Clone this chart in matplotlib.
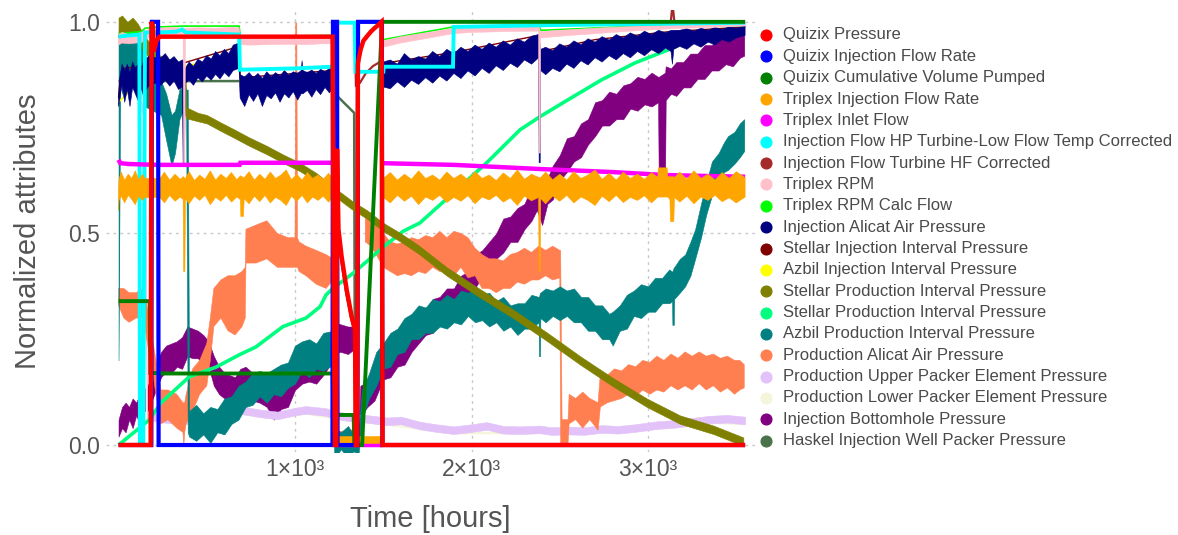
import numpy as np
import matplotlib
matplotlib.use("Agg")
import matplotlib.pyplot as plt
from matplotlib.lines import Line2D

nan = np.nan

# ---------------------------------------------------------------- series info
series_names = [
    "Quizix Pressure",
    "Quizix Injection Flow Rate",
    "Quizix Cumulative Volume Pumped",
    "Triplex Injection Flow Rate",
    "Triplex Inlet Flow",
    "Injection Flow HP Turbine-Low Flow Temp Corrected",
    "Injection Flow Turbine HF Corrected",
    "Triplex RPM",
    "Triplex RPM Calc Flow",
    "Injection Alicat Air Pressure",
    "Stellar Injection Interval Pressure",
    "Azbil Injection Interval Pressure",
    "Stellar Production Interval Pressure",
    "Stellar Production Interval Pressure",
    "Azbil Production Interval Pressure",
    "Production Alicat Air Pressure",
    "Production Upper Packer Element Pressure",
    "Production Lower Packer Element Pressure",
    "Injection Bottomhole Pressure",
    "Haskel Injection Well Packer Pressure",
]
series_colors = [
    "#FF0000", "#0000FF", "#008000", "#FFA500", "#FF00FF",
    "#00FFFF", "#A52A2A", "#FFC0CB", "#00FF00", "#000080",
    "#800000", "#FFFF00", "#808000", "#00FF7F", "#008080",
    "#FF7F50", "#E2C2F8", "#F5F5DC", "#800080", "#4B734B",
]

# ---------------------------------------------------------------- step-like series (time [h], value)
quizix_pressure_t = [0, 182, 187, 195, 200, 215, 232, 1213, 1219, 1226, 1234, 1238, 1246, 1264, 1293,
                     1321, 1340, 1344, 1352, 1356, 1362, 1372, 1387, 1410, 1430, 1450, 1470, 1490, 1496, 3550]
quizix_pressure_v = [0, 0, 1.0, 0.99, 0.93, 0.955, 0.965, 0.965, 0.36, 0.0, 0.0, 0.70, 0.51, 0.445, 0.366,
                     0.303, 0.272, 0.0, 0.0, 0.90, 0.915, 0.935, 0.955, 0.967, 0.977, 0.985, 0.992, 1.0, 0.0, 0.0]

quizix_rate_t = [0, 186, 189, 224, 227, 1212, 1215, 1238, 1241, 1354, 1357, 1492, 1495, 3550]
quizix_rate_v = [0, 0, 1, 1, 0, 0, 1, 1, 0, 0, 1, 1, 0, 0]

quizix_volume_t = [0, 176, 180, 236, 240, 1213, 1217, 1332, 1336, 1380, 1493, 3550]
quizix_volume_v = [0.34, 0.34, 0.17, 0.17, 0.169, 0.169, 0.071, 0.071, 0.0, 0.0, 1.0, 1.0]

hp_flow_t = [0, 60, 118, 121, 140, 150, 235, 330, 360, 380, 683, 688, 700, 1000, 1214, 1220, 1338,
             1342, 1500, 1503, 1895, 1899, 2400, 3550]
hp_flow_v = [0.965, 0.968, 0.970, 0.0, 0.0, 0.975, 0.975, 0.977, 0.982, 0.975, 0.970, 0.887, 0.887,
             0.890, 0.894, 0.998, 0.998, 0.882, 0.882, 0.894, 0.894, 0.988, 0.992, 0.998]

hf_flow_t = [0, 60, 118, 121, 140, 150, 235, 330, 360, 380, 683, 688, 700, 1000, 1214, 1220, 1338, 1345,
             1368, 1400, 1440, 1480, 1500, 1503, 1895, 1899, 2400, 3128, 3136, 3142, 3150, 3550]
hf_flow_v = [0.965, 0.968, 0.970, 0.0, 0.0, 0.975, 0.975, 0.977, 0.982, 0.975, 0.970, 0.887, 0.887,
             0.890, 0.894, 0.998, 0.998, 0.85, 0.856, 0.878, 0.895, 0.905, 0.894, 0.894, 0.894, 0.988,
             0.992, 0.996, 1.03, 1.03, 0.996, 0.998]

inlet_t = [0, 10, 60, 140, 235, 686, 690, 1215, 1222, 1228, 1494, 1497, 1500, 1900, 2200, 2400, 2800,
           3100, 3300, 3550]
inlet_v = [0.674, 0.666, 0.664, 0.663, 0.662, 0.662, 0.667, 0.667, nan, 0.0, 0.0, nan, 0.666, 0.662,
           0.656, 0.652, 0.645, 0.638, 0.636, 0.634]

rpm_calc_t = [0, 130, 150, 235, 366, 683, 690, 1215, 1222, 1496, 1500, 1897, 2380, 2392, 3550]
rpm_calc_v = [0.972, 0.977, 0.985, 0.988, 0.99, 0.99, 0.965, 0.968, nan, nan, 0.958, 0.988, 0.993,
              0.98, 1.0]

stellar_inj_t = [0, 8, 30, 140, 240, 362, 683, 689, 1215, 1218, 1232, 1240, 1258, 1287, 1315, 1334,
                 1338, 1496, 1500, 1900, 2380, 2392, 2700, 3100, 3550]
stellar_inj_v = [0.82, 0.865, 0.89, 0.895, 0.91, 0.902, 0.942, 0.868, 0.885, 0.70, 0.62, 0.50, 0.44,
                 0.36, 0.30, 0.268, nan, nan, 0.902, 0.928, 0.968, 0.93, 0.958, 0.976, 0.988]

azbil_inj_t = [0, 140, 240, 683, 690, 1215, 1222, 1496, 1500, 2380, 2392, 3550]
azbil_inj_v = [0.81, 0.87, 0.885, 0.92, 0.85, 0.868, nan, nan, 0.878, 0.95, 0.91, 0.98]

stellar_prod2_t = [0, 173, 241, 400, 552, 683, 779, 932, 1062, 1142, 1176, 1217, 1329, 1521, 1612,
                   1708, 1897, 2086, 2275, 2388, 2547, 2737, 2926, 3115, 3193, 3350, 3550]
stellar_prod2_v = [0.0, 0.059, 0.10, 0.161, 0.184, 0.213, 0.232, 0.28, 0.30, 0.327, 0.355, 0.371,
                   0.406, 0.475, 0.505, 0.525, 0.596, 0.667, 0.745, 0.776, 0.816, 0.863, 0.903,
                   0.934, 0.95, 0.975, 0.99]

lower_packer_t = [0, 120, 128, 150, 160, 400, 700, 1062, 1215, 1521, 1900, 2275, 2737, 3050, 3350, 3550]
lower_packer_v = [0.97, 0.975, 0.80, 0.77, 0.06, 0.05, 0.072, 0.074, 0.064, 0.048, 0.028, 0.028,
                  0.03, 0.04, 0.052, 0.05]

haskel_t = [0, 1236, 1243, 1335, 1340, 1350]
haskel_v = [0.86, 0.86, 0.823, 0.785, 0.0, 0.0]

# ---------------------------------------------------------------- noisy series (time, low, high)
triplex_rate_t = [
    0, 3, 15, 35, 55, 75, 95, 115, 135, 150,
    235, 260, 290, 320, 350, 366, 369, 376, 379, 400, 430, 460, 490, 520, 550, 580, 610, 640, 670, 690,
    693, 708, 712, 740, 770, 800, 830, 860, 890, 920, 950, 980, 1010, 1040, 1070, 1100, 1130, 1160, 1190, 1215,
    1220, 1226, 1494, 1497,
    1500, 1540, 1580, 1620, 1660, 1700, 1740, 1780, 1820, 1860, 1900, 1940, 1980, 2020, 2060, 2100, 2140,
    2180, 2220, 2260, 2300, 2340, 2380, 2383, 2389, 2392, 2420, 2460, 2500, 2540, 2580, 2620, 2660, 2700,
    2740, 2780, 2820, 2860, 2900, 2940, 2980, 3020, 3055, 3058, 3108, 3112, 3124, 3127, 3146, 3150, 3180,
    3220, 3260, 3300, 3340, 3380, 3420, 3460, 3500, 3550]
triplex_rate_lo = [
    0.555, 0.578, 0.588, 0.572, 0.590, 0.580, 0.568, 0.588, 0.578, 0.585,
    0.585, 0.572, 0.590, 0.576, 0.586, 0.580, 0.41, 0.41, 0.582, 0.570, 0.588, 0.578, 0.590, 0.568, 0.585,
    0.576, 0.590, 0.574, 0.586, 0.580, 0.54, 0.54, 0.582, 0.570, 0.588, 0.575, 0.590, 0.572, 0.585, 0.578,
    0.566, 0.588, 0.576, 0.590, 0.572, 0.586, 0.578, 0.588, 0.574, 0.585,
    nan, 0.004, 0.004, nan,
    0.585, 0.572, 0.590, 0.576, 0.588, 0.568, 0.586, 0.578, 0.590, 0.573, 0.585, 0.576, 0.589, 0.570,
    0.586, 0.579, 0.590, 0.574, 0.584, 0.566, 0.588, 0.577, 0.585, 0.41, 0.41, 0.582,
    0.570, 0.588, 0.576, 0.590, 0.572, 0.586, 0.578, 0.566, 0.588, 0.575, 0.590, 0.573, 0.585, 0.578,
    0.589, 0.572, 0.586, 0.586, 0.586, 0.586, 0.58, 0.528, 0.528, 0.585,
    0.574, 0.588, 0.570, 0.586, 0.578, 0.590, 0.575, 0.584, 0.572, 0.586]
triplex_rate_hi = [
    0.600, 0.628, 0.645, 0.626, 0.640, 0.630, 0.648, 0.627, 0.640, 0.630,
    0.630, 0.645, 0.626, 0.640, 0.628, 0.634, 0.634, 0.630, 0.630, 0.646, 0.625, 0.638, 0.628, 0.648,
    0.626, 0.640, 0.630, 0.644, 0.627, 0.636, 0.636, 0.632, 0.632, 0.646, 0.626, 0.640, 0.628, 0.645,
    0.630, 0.638, 0.650, 0.627, 0.640, 0.626, 0.644, 0.630, 0.638, 0.628, 0.642, 0.630,
    nan, 0.022, 0.022, nan,
    0.630, 0.644, 0.626, 0.640, 0.628, 0.648, 0.630, 0.638, 0.626, 0.645, 0.630, 0.640, 0.627, 0.646,
    0.630, 0.638, 0.625, 0.643, 0.630, 0.650, 0.628, 0.640, 0.632, 0.632, 0.632, 0.632,
    0.645, 0.627, 0.640, 0.626, 0.646, 0.630, 0.638, 0.650, 0.628, 0.642, 0.626, 0.645, 0.630, 0.640,
    0.628, 0.644, 0.632, 0.655, 0.655, 0.634, 0.634, 0.634, 0.634, 0.632,
    0.645, 0.628, 0.648, 0.630, 0.640, 0.626, 0.644, 0.630, 0.646, 0.632]

rpm_t = [0, 20, 60, 100, 130, 150, 235, 300, 366, 369, 376, 379, 450, 550, 650, 683, 690, 750, 850,
         950, 1050, 1150, 1215, 1222, 1496, 1500, 1600, 1708, 1800, 1897, 2000, 2200, 2380, 2383, 2389,
         2392, 2500, 2700, 2900, 3100, 3300, 3550]
rpm_lo = [0.945, 0.95, 0.948, 0.95, 0.95, 0.96, 0.968, 0.968, 0.97, 0.667, 0.667, 0.97, 0.97, 0.968,
          0.97, 0.97, 0.946, 0.945, 0.946, 0.947, 0.946, 0.948, 0.948, nan, nan, 0.94, 0.95, 0.958,
          0.965, 0.972, 0.975, 0.977, 0.978, 0.69, 0.69, 0.962, 0.966, 0.972, 0.978, 0.983, 0.986, 0.99]
rpm_hi = [0.97, 0.975, 0.97, 0.972, 0.975, 0.98, 0.985, 0.987, 0.985, 0.985, 0.985, 0.985, 0.986,
          0.985, 0.987, 0.986, 0.962, 0.962, 0.965, 0.963, 0.964, 0.965, 0.965, nan, nan, 0.955, 0.965,
          0.972, 0.978, 0.985, 0.987, 0.989, 0.99, 0.99, 0.977, 0.977, 0.98, 0.985, 0.989, 0.992,
          0.995, 0.998]

alicat_inj_t = [
    0, 8, 20, 35, 50, 65, 80, 95, 110, 125, 140, 175, 210, 240, 265, 290, 315, 340, 362, 366, 374, 378,
    400, 425, 450, 475, 500, 525, 550, 575, 600, 625, 650, 683, 689, 715, 740, 765, 790, 815, 840, 865,
    890, 915, 940, 965, 990, 1015, 1035, 1040, 1045, 1070, 1095, 1120, 1145, 1170, 1195, 1215,
    1222, 1496,
    1500, 1540, 1580, 1620, 1660, 1700, 1740, 1780, 1820, 1860, 1900, 1940, 1980, 2020, 2060, 2100, 2140,
    2180, 2220, 2260, 2300, 2340, 2380, 2383, 2389, 2392, 2420, 2460, 2500, 2540, 2580, 2620, 2660, 2700,
    2740, 2780, 2820, 2860, 2900, 2940, 2980, 3020, 3060, 3100, 3130, 3138, 3146, 3180, 3220, 3260, 3300,
    3340, 3380, 3420, 3460, 3500, 3550]
alicat_inj_lo = [
    0.80, 0.82, 0.85, 0.81, 0.84, 0.80, 0.845, 0.83, 0.815, 0.845, 0.83, 0.85, 0.855, 0.85, 0.862, 0.848,
    0.86, 0.84, 0.845, 0.667, 0.667, 0.855, 0.862, 0.85, 0.868, 0.858, 0.872, 0.862, 0.876, 0.865, 0.88,
    0.87, 0.885, 0.89, 0.82, 0.80, 0.828, 0.812, 0.83, 0.80, 0.826, 0.818, 0.832, 0.81, 0.83, 0.82, 0.835,
    0.815, 0.83, 0.83, 0.83, 0.838, 0.822, 0.84, 0.828, 0.845, 0.832, 0.845,
    nan, nan,
    0.846, 0.842, 0.858, 0.845, 0.862, 0.852, 0.868, 0.855, 0.872, 0.86, 0.878, 0.866, 0.884, 0.872,
    0.89, 0.878, 0.896, 0.885, 0.902, 0.892, 0.91, 0.9, 0.915, 0.667, 0.667, 0.885,
    0.875, 0.89, 0.882, 0.9, 0.89, 0.908, 0.898, 0.915, 0.905, 0.92, 0.91, 0.925, 0.915, 0.93, 0.92,
    0.934, 0.925, 0.938, 0.93, 0.90, 0.935,
    0.942, 0.935, 0.948, 0.94, 0.952, 0.946, 0.958, 0.952, 0.962, 0.968]
alicat_inj_hi = [
    0.82, 0.87, 0.90, 0.885, 0.90, 0.88, 0.905, 0.89, 0.90, 0.885, 0.905, 0.92, 0.915, 0.915, 0.925, 0.91,
    0.918, 0.905, 0.91, 0.91, 0.89, 0.89, 0.905, 0.895, 0.912, 0.905, 0.92, 0.912, 0.93, 0.92, 0.935,
    0.925, 0.945, 0.95, 0.875, 0.87, 0.88, 0.868, 0.878, 0.866, 0.882, 0.87, 0.88, 0.872, 0.885, 0.874,
    0.882, 0.878, 0.885, 0.908, 0.885, 0.88, 0.886, 0.878, 0.888, 0.882, 0.89, 0.89,
    nan, nan,
    0.905, 0.91, 0.9, 0.925, 0.91, 0.918, 0.912, 0.93, 0.918, 0.935, 0.925, 0.94, 0.93, 0.945, 0.935,
    0.95, 0.94, 0.955, 0.945, 0.96, 0.952, 0.966, 0.97, 0.97, 0.935, 0.935,
    0.94, 0.932, 0.948, 0.94, 0.955, 0.946, 0.96, 0.952, 0.965, 0.957, 0.97, 0.962, 0.974, 0.966, 0.978,
    0.97, 0.98, 0.974, 0.98, 0.98, 0.98,
    0.98, 0.984, 0.978, 0.985, 0.98, 0.987, 0.982, 0.988, 0.985, 0.99]

stellar_prod_t = [0, 20, 50, 80, 110, 140, 235, 300, 370, 378, 385, 450, 500, 580, 650, 740, 840, 930,
                  1028, 1120, 1217, 1329, 1407, 1500, 1600, 1700, 1860, 2050, 2236, 2427, 2615, 2803,
                  2993, 3181, 3370, 3540]
stellar_prod_lo = [0.965, 0.965, 0.95, 0.965, 0.95, 0.93, 0.89, 0.88, 0.86, 0.78, 0.772, 0.765, 0.76,
                   0.742, 0.727, 0.707, 0.687, 0.667, 0.647, 0.623, 0.59, 0.555, 0.535, 0.505, 0.48,
                   0.452, 0.40, 0.348, 0.30, 0.246, 0.19, 0.138, 0.09, 0.05, 0.026, -0.002]
stellar_prod_hi = [1.01, 1.015, 1.0, 1.01, 0.995, 0.97, 0.92, 0.91, 0.89, 0.89, 0.798, 0.785, 0.78,
                   0.762, 0.747, 0.727, 0.707, 0.687, 0.667, 0.643, 0.61, 0.575, 0.555, 0.525, 0.50,
                   0.472, 0.42, 0.368, 0.32, 0.266, 0.21, 0.158, 0.11, 0.07, 0.046, 0.018]

azbil_prod_t = [
    0, 10, 20, 40, 60, 80, 100, 125, 150, 241, 270, 300, 320, 345, 375, 383, 392,
    400, 440, 480, 520, 560, 600, 640, 680, 720, 760, 800, 840, 880, 920, 960, 1000, 1040, 1080, 1120,
    1160, 1215,
    1222, 1226, 1260, 1300, 1330, 1360,
    1380, 1420, 1460, 1500, 1540, 1580, 1620, 1660, 1700, 1740, 1780, 1820, 1860, 1900, 1940, 1980, 2020,
    2060, 2100, 2140, 2180, 2220, 2260, 2300, 2340, 2380, 2382, 2388, 2390, 2420, 2460, 2500, 2540, 2580,
    2620, 2660, 2700, 2740, 2780, 2800, 2840, 2880, 2920, 2960, 3000, 3040, 3080, 3120, 3136, 3138, 3146,
    3148, 3180, 3210, 3240, 3267, 3300, 3330, 3362, 3400, 3430, 3453, 3490, 3520, 3545]
azbil_prod_lo = [
    0.20, 0.88, 0.83, 0.90, 0.85, 0.88, 0.90, 0.85, 0.80, 0.78, 0.72, 0.66, 0.69, 0.77, 0.80, 0.79, 0.03,
    0.02, 0.01, 0.025, 0.005, 0.03, 0.025, 0.05, 0.06, 0.09, 0.095, 0.115, 0.10, 0.12, 0.115, 0.135, 0.145,
    0.175, 0.16, 0.18, 0.175, 0.19,
    -0.02, -0.03, -0.01, -0.03, -0.015, -0.02,
    0.06, 0.11, 0.14, 0.18, 0.185, 0.215, 0.22, 0.25, 0.25, 0.265, 0.265, 0.28, 0.275, 0.29, 0.285, 0.305,
    0.29, 0.295, 0.28, 0.29, 0.27, 0.28, 0.26, 0.275, 0.275, 0.29, 0.21, 0.21, 0.30, 0.29, 0.305, 0.295,
    0.305, 0.29, 0.29, 0.27, 0.27, 0.25, 0.25, 0.235, 0.27, 0.275, 0.305, 0.30, 0.315, 0.315, 0.335,
    0.335, 0.34, 0.284, 0.284, 0.345, 0.36, 0.375, 0.40, 0.44, 0.49, 0.545, 0.59, 0.61, 0.645, 0.65,
    0.665, 0.68, 0.695]
azbil_prod_hi = [
    0.97, 0.99, 0.99, 0.99, 0.98, 0.99, 0.98, 0.97, 0.92, 0.86, 0.83, 0.78, 0.79, 0.84, 0.85, 0.84, 0.84,
    0.08, 0.095, 0.075, 0.09, 0.085, 0.11, 0.115, 0.14, 0.15, 0.17, 0.175, 0.17, 0.18, 0.19, 0.195, 0.235,
    0.245, 0.25, 0.24, 0.265, 0.27,
    0.27, 0.04, 0.03, 0.045, 0.025, 0.04,
    0.13, 0.17, 0.22, 0.24, 0.265, 0.275, 0.30, 0.31, 0.33, 0.325, 0.345, 0.34, 0.355, 0.345, 0.365, 0.36,
    0.37, 0.355, 0.36, 0.34, 0.35, 0.33, 0.335, 0.335, 0.355, 0.35, 0.35, 0.36, 0.36, 0.37, 0.365, 0.375,
    0.365, 0.37, 0.35, 0.35, 0.33, 0.33, 0.31, 0.315, 0.33, 0.355, 0.365, 0.38, 0.375, 0.395, 0.395,
    0.415, 0.41, 0.41, 0.42, 0.42, 0.44, 0.45, 0.48, 0.51, 0.57, 0.62, 0.67, 0.69, 0.715, 0.73, 0.74,
    0.76, 0.77]

alicat_prod_t = [
    0, 30, 60, 100, 140, 160, 241, 280, 330, 365, 370, 375, 383, 420, 460, 500, 520, 540, 580, 620, 660,
    700, 718, 722, 780, 840, 900, 960, 1000, 1004, 1010, 1014, 1023, 1062, 1120, 1176, 1215,
    1220, 1226, 1390, 1395,
    1398, 1430, 1460, 1500, 1540, 1580, 1620, 1660, 1700, 1740, 1780, 1820, 1860, 1900, 1940, 1980, 2020,
    2060, 2100, 2140, 2180, 2220, 2260, 2300, 2340, 2380, 2420, 2460, 2500, 2505, 2513, 2547, 2553, 2590,
    2630, 2670, 2717, 2730, 2770, 2810, 2850, 2890, 2930, 2970, 3010, 3050, 3090, 3130, 3170, 3210, 3250,
    3290, 3330, 3370, 3410, 3450, 3490, 3520, 3545]
alicat_prod_lo = [
    0.33, 0.30, 0.29, 0.30, 0.30, 0.25, 0.05, 0.06, 0.04, 0.03, 0.0, 0.03, 0.05, 0.08, 0.12, 0.14, 0.20,
    0.28, 0.30, 0.27, 0.26, 0.28, 0.30, 0.43, 0.43, 0.44, 0.42, 0.42, 0.42, 0.42, 0.42, 0.42, 0.41, 0.40,
    0.38, 0.37, 0.39,
    nan, 0.0, 0.0, nan,
    0.48, 0.47, 0.45, 0.42, 0.41, 0.40, 0.405, 0.40, 0.41, 0.405, 0.42, 0.41, 0.415, 0.40, 0.42, 0.395,
    0.40, 0.37, 0.37, 0.36, 0.37, 0.37, 0.385, 0.38, 0.39, 0.39, 0.40, 0.39, 0.395, 0.005, 0.005, 0.005,
    0.05, 0.06, 0.04, 0.06, 0.035, 0.09, 0.10, 0.105, 0.11, 0.12, 0.115, 0.13, 0.12, 0.13, 0.125, 0.14,
    0.13, 0.14, 0.13, 0.145, 0.13, 0.14, 0.125, 0.135, 0.12, 0.13, 0.135]
alicat_prod_hi = [
    0.37, 0.37, 0.36, 0.36, 0.37, 0.33, 0.13, 0.13, 0.12, 0.10, 0.10, 0.10, 0.12, 0.18, 0.20, 0.24, 0.30,
    0.37, 0.39, 0.40, 0.40, 0.41, 0.42, 0.51, 0.52, 0.53, 0.50, 0.49, 0.49, 0.997, 0.997, 0.49, 0.48,
    0.47, 0.46, 0.45, 0.44,
    nan, 0.03, 0.04, nan,
    0.54, 0.55, 0.52, 0.50, 0.48, 0.475, 0.48, 0.49, 0.485, 0.495, 0.49, 0.505, 0.49, 0.505, 0.50, 0.49,
    0.465, 0.45, 0.44, 0.44, 0.435, 0.45, 0.455, 0.465, 0.455, 0.47, 0.46, 0.47, 0.46, 0.46, 0.06, 0.06,
    0.12, 0.11, 0.125, 0.11, 0.10, 0.17, 0.165, 0.18, 0.175, 0.19, 0.185, 0.20, 0.195, 0.21, 0.20, 0.215,
    0.205, 0.22, 0.21, 0.22, 0.21, 0.215, 0.205, 0.21, 0.20, 0.20, 0.19]

upper_packer_t = [0, 40, 120, 128, 150, 160, 241, 300, 400, 500, 600, 700, 800, 900, 1000, 1062, 1176,
                  1215, 1300, 1400, 1521, 1600, 1708, 1800, 1900, 2000, 2086, 2180, 2275, 2388, 2450,
                  2547, 2640, 2737, 2830, 2926, 3050, 3150, 3250, 3350, 3450, 3550]
upper_packer_lo = [0.965, 0.975, 0.97, 0.79, 0.77, 0.06, 0.054, 0.051, 0.05, 0.057, 0.064, 0.073,
                   0.066, 0.061, 0.07, 0.074, 0.069, 0.063, 0.057, 0.053, 0.047, 0.049, 0.037, 0.031,
                   0.026, 0.031, 0.036, 0.027, 0.026, 0.028, 0.024, 0.025, 0.024, 0.029, 0.027, 0.031,
                   0.038, 0.041, 0.046, 0.051, 0.053, 0.049]
upper_packer_hi = [0.985, 0.995, 0.99, 0.81, 0.79, 0.08, 0.072, 0.069, 0.068, 0.075, 0.082, 0.091,
                   0.084, 0.079, 0.088, 0.092, 0.087, 0.081, 0.075, 0.071, 0.065, 0.067, 0.055, 0.049,
                   0.044, 0.049, 0.054, 0.045, 0.044, 0.046, 0.042, 0.043, 0.042, 0.047, 0.045, 0.049,
                   0.056, 0.059, 0.064, 0.069, 0.071, 0.067]

bhp_t = [
    0, 20, 40, 60, 80, 100, 120, 140, 165,
    241, 270, 300, 330, 360, 390, 420, 450, 480, 510, 540, 570, 600, 630, 660, 690, 720, 760, 800, 840,
    880, 920, 960, 1000, 1040, 1080, 1120, 1160, 1200, 1217, 1260, 1300, 1330, 1336, 1342, 1360,
    1370, 1410, 1450, 1500, 1540, 1580, 1620, 1660, 1700, 1740, 1780, 1820, 1860, 1900, 1940, 1980, 2020,
    2060, 2100, 2140, 2180, 2220, 2260, 2300, 2340, 2370, 2400, 2430, 2460, 2500, 2540, 2580, 2620, 2660,
    2700, 2740, 2780, 2820, 2860, 2900, 2940, 2980, 3020, 3057, 3060, 3097, 3100, 3130, 3160, 3200, 3240,
    3280, 3320, 3360, 3400, 3440, 3480, 3520, 3545]
bhp_lo = [
    0.02, 0.04, 0.03, 0.06, 0.04, 0.07, 0.05, 0.08, 0.08,
    0.16, 0.175, 0.17, 0.185, 0.18, 0.21, 0.205, 0.205, 0.19, 0.185, 0.14, 0.12, 0.11, 0.10, 0.095, 0.12,
    0.11, 0.105, 0.10, 0.09, 0.06, 0.085, 0.09, 0.13, 0.145, 0.15, 0.145, 0.165, 0.19, 0.22, 0.22, 0.215,
    0.225, 0.0, 0.0, 0.0,
    0.07, 0.09, 0.105, 0.155, 0.16, 0.185, 0.19, 0.22, 0.24, 0.26, 0.265, 0.29, 0.29, 0.31, 0.32, 0.35,
    0.37, 0.40, 0.40, 0.44, 0.455, 0.48, 0.48, 0.51, 0.53, 0.555, 0.52, 0.57, 0.58, 0.625, 0.645, 0.67,
    0.68, 0.71, 0.73, 0.755, 0.755, 0.77, 0.77, 0.795, 0.79, 0.805, 0.80, 0.81, 0.655, 0.655, 0.815,
    0.83, 0.825, 0.845, 0.845, 0.865, 0.865, 0.885, 0.885, 0.90, 0.895, 0.915, 0.92]
bhp_hi = [
    0.06, 0.09, 0.10, 0.09, 0.11, 0.10, 0.12, 0.13, 0.14,
    0.22, 0.235, 0.24, 0.245, 0.255, 0.28, 0.275, 0.27, 0.26, 0.245, 0.21, 0.185, 0.17, 0.165, 0.16, 0.18,
    0.185, 0.17, 0.17, 0.15, 0.14, 0.15, 0.16, 0.19, 0.21, 0.215, 0.21, 0.225, 0.26, 0.29, 0.285, 0.28,
    0.28, 0.28, 0.02, 0.02,
    0.14, 0.15, 0.185, 0.215, 0.24, 0.245, 0.27, 0.28, 0.32, 0.32, 0.345, 0.35, 0.37, 0.37, 0.40, 0.41,
    0.45, 0.46, 0.48, 0.50, 0.535, 0.54, 0.56, 0.57, 0.61, 0.635, 0.60, 0.63, 0.66, 0.685, 0.725, 0.73,
    0.76, 0.77, 0.81, 0.815, 0.835, 0.83, 0.85, 0.855, 0.87, 0.865, 0.88, 0.87, 0.87, 0.88, 0.895, 0.89,
    0.905, 0.905, 0.925, 0.925, 0.945, 0.945, 0.965, 0.96, 0.975, 0.975, 0.985]

# ---------------------------------------------------------------- figure
W, H = 1178, 535
fig = plt.figure(figsize=(W / 100, H / 100), dpi=100)
ax_l, ax_r, ax_t, ax_b = 106, 755, 10, 452
ax = fig.add_axes([ax_l / W, 1 - ax_b / H, (ax_r - ax_l) / W, (ax_b - ax_t) / H])

FONT = "Liberation Sans"
TXT = "#555555"
colors = series_colors


def z(i):
    # earlier entries of the list are painted on top
    return 60 - 2 * i


def line(t, v, i, lw):
    ax.plot(np.asarray(t, float), np.asarray(v, float), color=colors[i], lw=lw,
            zorder=z(i), solid_joinstyle="miter", solid_capstyle="butt")


def band(t, lo, hi, i):
    t = np.asarray(t, float)
    lo = np.asarray(lo, float)
    hi = np.asarray(hi, float)
    ax.fill_between(t, lo, hi, color=colors[i], lw=0.4, edgecolor=colors[i], zorder=z(i))


line(quizix_pressure_t, quizix_pressure_v, 0, 3.2)
line(quizix_rate_t, quizix_rate_v, 1, 3.0)
line(quizix_volume_t, quizix_volume_v, 2, 2.8)
band(triplex_rate_t, triplex_rate_lo, triplex_rate_hi, 3)
line(inlet_t, inlet_v, 4, 3.2)
line(hp_flow_t, hp_flow_v, 5, 2.8)
line(hf_flow_t, hf_flow_v, 6, 1.6)
band(rpm_t, rpm_lo, rpm_hi, 7)
line(rpm_calc_t, rpm_calc_v, 8, 1.2)
band(alicat_inj_t, alicat_inj_lo, alicat_inj_hi, 9)
line(stellar_inj_t, stellar_inj_v, 10, 1.0)
line(azbil_inj_t, azbil_inj_v, 11, 1.2)
band(stellar_prod_t, stellar_prod_lo, stellar_prod_hi, 12)
line(stellar_prod2_t, stellar_prod2_v, 13, 2.6)
band(azbil_prod_t, azbil_prod_lo, azbil_prod_hi, 14)
band(alicat_prod_t, alicat_prod_lo, alicat_prod_hi, 15)
band(upper_packer_t, upper_packer_lo, upper_packer_hi, 16)
line(lower_packer_t, lower_packer_v, 17, 1.6)
band(bhp_t, bhp_lo, bhp_hi, 18)
line(haskel_t, haskel_v, 19, 1.8)

# ---------------------------------------------------------------- axes styling
ax.set_xlim(-71, 3606)
ax.set_ylim(-0.0165, 1.028)
for s in ax.spines.values():
    s.set_visible(False)

x_ticks = [1000, 2000, 3000]
x_tick_labels = ["1\u00d710\u00b3", "2\u00d710\u00b3", "3\u00d710\u00b3"]
y_ticks = [0.0, 0.5, 1.0]
y_tick_labels = ["0.0", "0.5", "1.0"]
ax.set_xticks(x_ticks)
ax.set_xticklabels(x_tick_labels)
ax.set_yticks(y_ticks)
ax.set_yticklabels(y_tick_labels)
ax.tick_params(length=0, labelsize=16.5, labelcolor=TXT, pad=4.5)
for lab in ax.get_xticklabels() + ax.get_yticklabels():
    lab.set_fontfamily(FONT)
ax.grid(True, color="#c8c8c8", lw=1.0, ls=(0, (2, 3)), zorder=0)
ax.set_axisbelow(True)

ax.set_xlabel("Time [hours]", fontsize=21, color=TXT, family=FONT, va="center")
ax.set_ylabel("Normalized attributes", fontsize=21, color=TXT, family=FONT, va="center")
ax.xaxis.set_label_coords(0.5, (ax_b - 519) / (ax_b - ax_t))
ax.yaxis.set_label_coords((28 - ax_l) / (ax_r - ax_l), 0.5)

# ---------------------------------------------------------------- legend
for i, (name, col) in enumerate(zip(series_names, series_colors)):
    yy = 1 - (35 + 21.35 * i) / H
    fig.add_artist(Line2D([766 / W], [yy], marker="o", markersize=7.7, color=col, lw=0,
                          transform=fig.transFigure))
    fig.text(783 / W, yy, name, fontsize=11.95, color="#4a4a4a", family=FONT,
             va="center", ha="left")

fig.savefig("out.png", dpi=100)
